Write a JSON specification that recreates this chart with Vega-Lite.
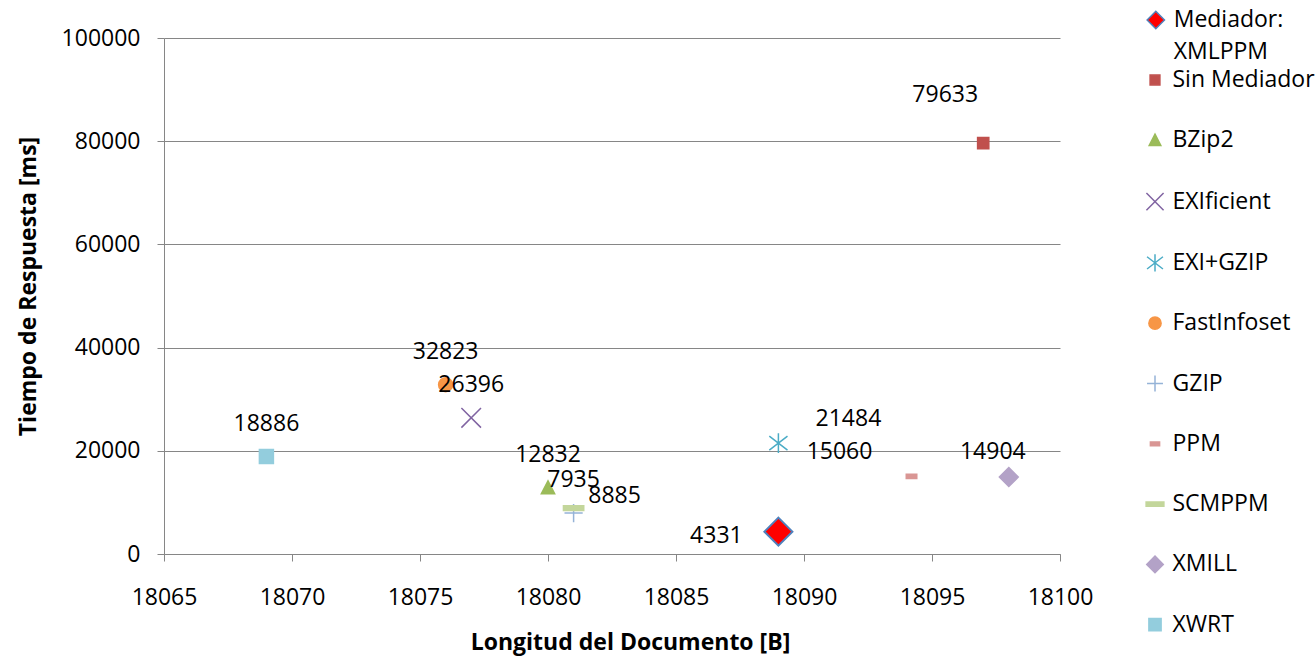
{
  "$schema": "https://vega.github.io/schema/vega-lite/v6.json",
  "width": 896,
  "height": 516,
  "autosize": {"type": "none"},
  "padding": {"left": 164, "top": 38, "right": 256, "bottom": 111},
  "background": "white",
  "config": {
    "view": {"stroke": null},
    "font": "Open Sans",
    "axis": {"labelFont": "Open Sans", "labelFontSize": 23, "labelColor": "black", "titleFont": "Open Sans", "titleFontSize": 23, "titleFontWeight": "bold", "titleColor": "black", "domainColor": "#868686", "tickColor": "#868686", "gridColor": "#868686", "domainWidth": 1, "tickWidth": 1, "gridWidth": 1, "labelFlush": false, "labelOverlap": false},
    "legend": {"orient": "none", "padding": 0, "labelFont": "Open Sans", "labelFontSize": 23, "labelColor": "black", "labelOffset": 6, "rowPadding": 36.3, "symbolSize": 150, "symbolStrokeWidth": 1.5, "labelLimit": 300},
    "style": {"guide-label": {"lineHeight": 31.5}}
  },
  "data": {
    "values": [
      {"serie": "Mediador: XMLPPM", "x": 18089, "y": 4331},
      {"serie": "Sin Mediador", "x": 18097, "y": 79633},
      {"serie": "BZip2", "x": 18080, "y": 12832},
      {"serie": "EXIficient", "x": 18077, "y": 26396},
      {"serie": "EXI+GZIP", "x": 18089, "y": 21484},
      {"serie": "FastInfoset", "x": 18076, "y": 32823},
      {"serie": "GZIP", "x": 18081, "y": 7935},
      {"serie": "PPM", "x": 18094.2, "y": 15060},
      {"serie": "SCMPPM", "x": 18081, "y": 8885},
      {"serie": "XMILL", "x": 18098, "y": 14904},
      {"serie": "XWRT", "x": 18069, "y": 18886}
    ]
  },
  "encoding": {
    "x": {"field": "x", "type": "quantitative", "scale": {"domain": [18065, 18100], "zero": false, "nice": false},
      "axis": {"title": "Longitud del Documento [B]", "values": [18065, 18070, 18075, 18080, 18085, 18090, 18095, 18100], "format": "d", "grid": false, "tickSize": 7, "labelPadding": 25, "titlePadding": 22, "titleX": 466}},
    "y": {"field": "y", "type": "quantitative", "scale": {"domain": [0, 100000], "nice": false},
      "axis": {"title": "Tiempo de Respuesta [ms]", "values": [0, 20000, 40000, 60000, 80000, 100000], "format": "d", "grid": true, "tickSize": 7, "labelPadding": 17, "titlePadding": 21, "titleY": 248}}
  },
  "resolve": {"scale": {"shape": "independent", "fill": "independent", "stroke": "independent"}},
  "layer": [
    {
      "transform": [{"filter": "datum.serie !== 'Mediador: XMLPPM'"}],
      "mark": {"type": "point", "filled": true, "opacity": 1, "size": 196, "strokeWidth": 1.5},
      "encoding": {
        "shape": {"field": "serie", "type": "nominal", "legend": {"title": null, "legendX": 979.5, "legendY": 30.5},
          "scale": {"domain": ["Sin Mediador", "BZip2", "EXIficient", "EXI+GZIP", "FastInfoset", "GZIP", "PPM", "SCMPPM", "XMILL", "XWRT"],
            "range": [
              "M-0.8,-0.8L0.8,-0.8L0.8,0.8L-0.8,0.8Z",
              "M0,-1L0.95,0.85L-0.95,0.85Z",
              "M-1.4,-1.4L1.4,1.4M-1.4,1.4L1.4,-1.4",
              "M0,-1.4L0,1.4M-1.3,-1L1.3,1M-1.3,1L1.3,-1",
              "circle",
              "M-1.3,0L1.3,0M0,-1.3L0,1.3",
              "M-0.75,-0.3L0.75,-0.3L0.75,0.3L-0.75,0.3Z",
              "M-1.45,-0.35L1.45,-0.35L1.45,0.35L-1.45,0.35Z",
              "M0,-1.35L1.35,0L0,1.35L-1.35,0Z",
              "M-1,-1L1,-1L1,1L-1,1Z"
            ]}},
        "fill": {"field": "serie", "type": "nominal", "legend": {"title": null, "legendX": 979.5, "legendY": 30.5},
          "scale": {"domain": ["Sin Mediador", "BZip2", "EXIficient", "EXI+GZIP", "FastInfoset", "GZIP", "PPM", "SCMPPM", "XMILL", "XWRT"],
            "range": ["#C0504D", "#9BBB59", "#8064A2", "#4BACC6", "#F79646", "#95B3D7", "#D99694", "#C3D69B", "#B3A2C7", "#93CDDD"]}},
        "stroke": {"field": "serie", "type": "nominal", "legend": {"title": null, "legendX": 979.5, "legendY": 30.5},
          "scale": {"domain": ["Sin Mediador", "BZip2", "EXIficient", "EXI+GZIP", "FastInfoset", "GZIP", "PPM", "SCMPPM", "XMILL", "XWRT"],
            "range": ["#C0504D", "#9BBB59", "#8064A2", "#4BACC6", "#F79646", "#95B3D7", "#D99694", "#C3D69B", "#B3A2C7", "#93CDDD"]}}
      }
    },
    {
      "transform": [{"filter": "datum.serie === 'Mediador: XMLPPM'"}],
      "mark": {"type": "point", "filled": true, "opacity": 1, "size": 196, "strokeWidth": 2},
      "encoding": {
        "shape": {"field": "serie", "type": "nominal", "legend": {"title": null, "legendX": 980.3, "legendY": -29.5, "symbolSize": 75, "labelOffset": 6.4, "labelExpr": "['Mediador:', 'XMLPPM']"},
          "scale": {"domain": ["Mediador: XMLPPM"], "range": ["M0,-2L2,0L0,2L-2,0Z"]}},
        "fill": {"field": "serie", "type": "nominal", "legend": {"title": null, "legendX": 980.3, "legendY": -29.5, "symbolSize": 75, "labelOffset": 6.4, "labelExpr": "['Mediador:', 'XMLPPM']"},
          "scale": {"domain": ["Mediador: XMLPPM"], "range": ["#FF0000"]}},
        "stroke": {"field": "serie", "type": "nominal", "legend": {"title": null, "legendX": 980.3, "legendY": -29.5, "symbolSize": 75, "labelOffset": 6.4, "labelExpr": "['Mediador:', 'XMLPPM']"},
          "scale": {"domain": ["Mediador: XMLPPM"], "range": ["#4F81BD"]}}
      }
    },
    {
      "transform": [{"filter": "indexof(['BZip2','EXIficient','FastInfoset','GZIP','XWRT'], datum.serie) >= 0"}],
      "mark": {"type": "text", "fontSize": 23, "font": "Open Sans", "color": "black", "align": "center", "baseline": "middle", "dy": -33},
      "encoding": {"text": {"field": "y", "type": "quantitative", "format": "d"}}
    },
    {
      "transform": [{"filter": "datum.serie === 'Mediador: XMLPPM'"}],
      "mark": {"type": "text", "fontSize": 23, "font": "Open Sans", "color": "black", "align": "center", "baseline": "middle", "dx": -62, "dy": 4},
      "encoding": {"text": {"field": "y", "type": "quantitative", "format": "d"}}
    },
    {
      "transform": [{"filter": "datum.serie === 'Sin Mediador'"}],
      "mark": {"type": "text", "fontSize": 23, "font": "Open Sans", "color": "black", "align": "center", "baseline": "middle", "dx": -38, "dy": -48},
      "encoding": {"text": {"field": "y", "type": "quantitative", "format": "d"}}
    },
    {
      "transform": [{"filter": "datum.serie === 'EXI+GZIP'"}],
      "mark": {"type": "text", "fontSize": 23, "font": "Open Sans", "color": "black", "align": "center", "baseline": "middle", "dx": 70, "dy": -24},
      "encoding": {"text": {"field": "y", "type": "quantitative", "format": "d"}}
    },
    {
      "transform": [{"filter": "datum.serie === 'PPM'"}],
      "mark": {"type": "text", "fontSize": 23, "font": "Open Sans", "color": "black", "align": "center", "baseline": "middle", "dx": -72, "dy": -24},
      "encoding": {"text": {"field": "y", "type": "quantitative", "format": "d"}}
    },
    {
      "transform": [{"filter": "datum.serie === 'SCMPPM'"}],
      "mark": {"type": "text", "fontSize": 23, "font": "Open Sans", "color": "black", "align": "center", "baseline": "middle", "dx": 41, "dy": -12},
      "encoding": {"text": {"field": "y", "type": "quantitative", "format": "d"}}
    },
    {
      "transform": [{"filter": "datum.serie === 'XMILL'"}],
      "mark": {"type": "text", "fontSize": 23, "font": "Open Sans", "color": "black", "align": "center", "baseline": "middle", "dx": -16, "dy": -25},
      "encoding": {"text": {"field": "y", "type": "quantitative", "format": "d"}}
    }
  ]
}
